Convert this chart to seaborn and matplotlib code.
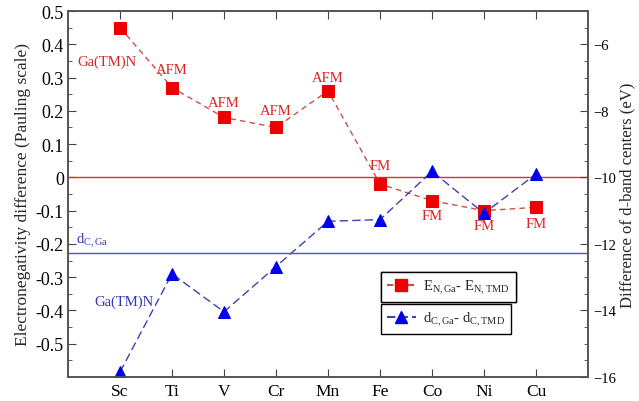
import numpy as np
import pandas as pd
import matplotlib
matplotlib.use("Agg")
import matplotlib.pyplot as plt
import seaborn as sns
from matplotlib.lines import Line2D

metals = ["Sc", "Ti", "V", "Cr", "Mn", "Fe", "Co", "Ni", "Cu"]
en_diff = [0.45, 0.27, 0.18, 0.15, 0.26, -0.02, -0.07, -0.10, -0.09]
dband_diff = [-15.85, -12.9, -14.04, -12.68, -11.32, -11.27, -9.82, -11.08, -9.9]
mag_labels = ["", "AFM", "AFM", "AFM", "AFM", "FM", "FM", "FM", "FM"]
dc_ga = -12.26

sns.set_style("ticks")
plt.rcParams["font.family"] = ["Liberation Serif", "DejaVu Serif"]
plt.rcParams["mathtext.fontset"] = "custom"
plt.rcParams["mathtext.rm"] = "Liberation Serif"
plt.rcParams["mathtext.it"] = "Liberation Serif"

df = pd.DataFrame({"metal": metals, "en": en_diff, "db": dband_diff})

fig = plt.figure(figsize=(6.39, 4.02), dpi=100)
ax = fig.add_axes([68/639, 1 - 378/402, 520/639, 366/402])
ax2 = ax.twinx()

red_line = "#c8504a"
blue_line = "#4040b0"

sns.lineplot(data=df, x="metal", y="en", ax=ax, color=red_line, marker="s",
             markersize=8, markerfacecolor="#ee0000", markeredgecolor="#ee0000",
             linestyle=(0, (4, 3)), linewidth=1.0, sort=False)
sns.lineplot(data=df, x="metal", y="db", ax=ax2, color=blue_line, marker="^",
             markersize=9, markerfacecolor="#0000ee", markeredgecolor="#0000ee",
             linestyle=(0, (6, 3)), linewidth=1.0, sort=False)

ax.axhline(0, color="#cc3333", linewidth=1.0)
ax2.axhline(dc_ga, color="#5050c8", linewidth=1.0)

ax.set_xlim(-1, 9)
ax.set_ylim(-0.6, 0.5)
ax2.set_ylim(-16, -5)

ax.set_yticks(np.arange(-0.5, 0.51, 0.1))
ax.set_yticklabels(["-0.5", "-0.4", "-0.3", "-0.2", "-0.1", "0", "0.1", "0.2", "0.3", "0.4", "0.5"])
ax.set_yticks(np.arange(-0.55, 0.5, 0.1), minor=True)
ax2.set_yticks([-16, -14, -12, -10, -8, -6])
ax2.set_yticks(np.arange(-15.5, -5, 0.5), minor=True)

ax.tick_params(axis="both", which="both", direction="in", colors="#444444", labelcolor="black")
ax.tick_params(axis="x", top=True, length=6, labelsize=12.5, pad=4)
ax.tick_params(axis="y", which="major", length=6, labelsize=13, pad=3)
ax.tick_params(axis="y", which="minor", length=3)
ax2.tick_params(axis="y", which="both", direction="in", colors="#444444", labelcolor="black")
ax2.tick_params(axis="y", which="major", length=6, labelsize=10.5, pad=4)
ax2.tick_params(axis="y", which="minor", length=3)

for a in (ax, ax2):
    for s in a.spines.values():
        s.set_color("#555555")
        s.set_linewidth(1.2)

ax.set_xlabel("")
ax.set_ylabel("Electronegativity difference (Pauling scale)", fontsize=12.5, labelpad=3)
ax2.set_ylabel("Difference of d-band centers (eV)", fontsize=12, labelpad=2)

# annotations
ax.text(-0.25, 0.35, "Ga(TM)N", color="#dd2222", fontsize=10.5, ha="center", va="center")
offsets = [0, 0.055, 0.045, 0.05, 0.04, 0.055, -0.045, -0.045, -0.05]
for i, (lab, v, off) in enumerate(zip(mag_labels, en_diff, offsets)):
    if lab:
        ax.text(i, v + off, lab, color="#dd2222", fontsize=10.5, ha="center", va="center")
ax.text(0.08, -0.373, "Ga(TM)N", color="#3333bb", fontsize=10.5, ha="center", va="center")
ax.text(-0.85, -0.187, r"d$_{\mathregular{C,Ga}}$", color="#3333bb", fontsize=10.5, ha="left", va="center")

h1 = Line2D([], [], color=red_line, marker="s", markersize=8, markerfacecolor="#ee0000",
            markeredgecolor="#ee0000", linestyle=(0, (3, 2)))
h2 = Line2D([], [], color=blue_line, marker="^", markersize=9, markerfacecolor="#0000ee",
            markeredgecolor="#0000ee", linestyle=(0, (4, 2)))
leg1 = ax.legend([h1], [r"E$_{\mathregular{N,Ga}}$- E$_{\mathregular{N,TMD}}$"], loc="upper left",
                 bbox_to_anchor=(0.602, 0.287), fancybox=False, framealpha=1, edgecolor="black",
                 fontsize=10.5, handlelength=2.0, borderpad=0.4, handletextpad=0.5, borderaxespad=0)
leg1.get_frame().set_linewidth(1.0)
ax.add_artist(leg1)
leg2 = ax2.legend([h2], [r"d$_{\mathregular{C,Ga}}$- d$_{\mathregular{C,TMD}}$"], loc="upper left",
                  bbox_to_anchor=(0.602, 0.2), fancybox=False, framealpha=1, edgecolor="black",
                  fontsize=10.5, handlelength=2.0, borderpad=0.4, handletextpad=0.5, borderaxespad=0)
leg2.get_frame().set_linewidth(1.0)

fig.savefig("out.png", dpi=100)
